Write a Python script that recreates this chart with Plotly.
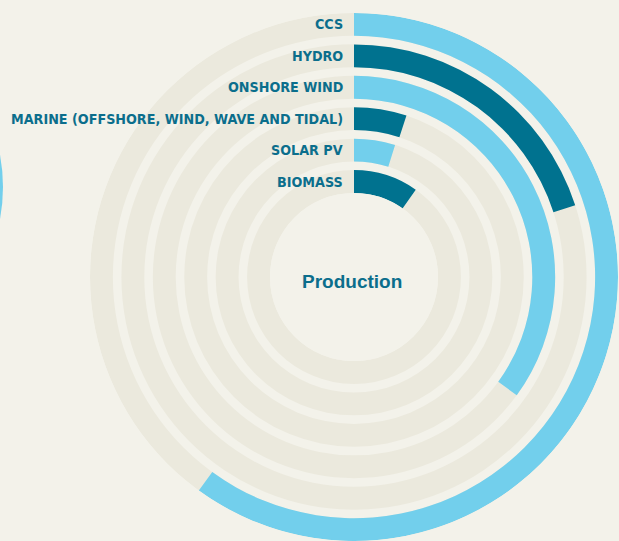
import plotly.graph_objects as go

# ---- data ----
categories = ["CCS", "HYDRO", "ONSHORE WIND", "MARINE (OFFSHORE, WIND, WAVE AND TIDAL)", "SOLAR PV", "BIOMASS"]
values = [60, 20, 35, 5, 4.8, 9.8]          # percent of full circle
bar_colors = ["#72cfec", "#00728f", "#72cfec", "#00728f", "#72cfec", "#00728f"]
center_label = "Production"

# ---- styling / geometry ----
W, H = 619, 541
BG = "#f3f2ea"
TRACK = "#ebe9dd"
TEXT = "#0b6e8c"
cx, cy = 354, 277          # centre in px (from top-left)
R = 264                    # outer radius in px
hole = 85 / 267
ring_w = 0.728             # ring thickness in ring-pitch units
n = len(categories)
r_max = (n - 1) + ring_w

fig = go.Figure()

# tracks
for i, cat in enumerate(categories):
    k = n - 1 - i
    fig.add_trace(go.Barpolar(
        r=[ring_w], base=[k], theta=[180], width=[360],
        marker=dict(color=TRACK, line=dict(width=0)),
        hoverinfo="skip", showlegend=False))

# value bars
for i, (cat, v, c) in enumerate(zip(categories, values, bar_colors)):
    k = n - 1 - i
    fig.add_trace(go.Barpolar(
        r=[ring_w], base=[k], theta=[v * 3.6 / 2], width=[v * 3.6],
        marker=dict(color=c, line=dict(width=0)),
        name=cat, showlegend=False))

annotations = []
for i, cat in enumerate(categories):
    k = n - 1 - i
    r_px = R * hole + (k + ring_w / 2) / r_max * R * (1 - hole)
    annotations.append(dict(
        x=345 / W, y=(H - cy + r_px) / H, xref="paper", yref="paper",
        xanchor="right", yanchor="middle", showarrow=False, text=cat,
        font=dict(family="DejaVu Sans Condensed, Liberation Sans Narrow, Arial Narrow, sans-serif",
                  size=14.2, color=TEXT, weight="bold")))

annotations.append(dict(
    x=352 / W, y=(H - 282) / H, xref="paper", yref="paper",
    xanchor="center", yanchor="middle", showarrow=False, text=center_label,
    font=dict(family="Liberation Sans, Arial, sans-serif", size=19, color=TEXT, weight="bold")))

fig.update_layout(
    width=W, height=H,
    margin=dict(l=0, r=0, t=0, b=0),
    paper_bgcolor=BG, plot_bgcolor=BG,
    polar=dict(
        domain=dict(x=[(cx - R) / W, (cx + R) / W], y=[(H - cy - R) / H, (H - cy + R) / H]),
        bgcolor=BG, hole=hole, bargap=0,
        radialaxis=dict(visible=False, range=[0, r_max]),
        angularaxis=dict(visible=False, rotation=90, direction="clockwise",
                         showgrid=False, showline=False, showticklabels=False),
    ),
    annotations=annotations,
    shapes=[dict(type="circle", xref="paper", yref="paper",
                 x0=-349 / W, x1=3 / W, y0=(H - 187 - 176) / H, y1=(H - 187 + 176) / H,
                 fillcolor="#72cfec", line=dict(width=0), layer="below")],
)

fig.write_html("out.html", config={"displayModeBar": False},
               post_script="document.body.style.margin='0';document.body.style.overflow='hidden';document.body.style.background='%s';" % BG)
